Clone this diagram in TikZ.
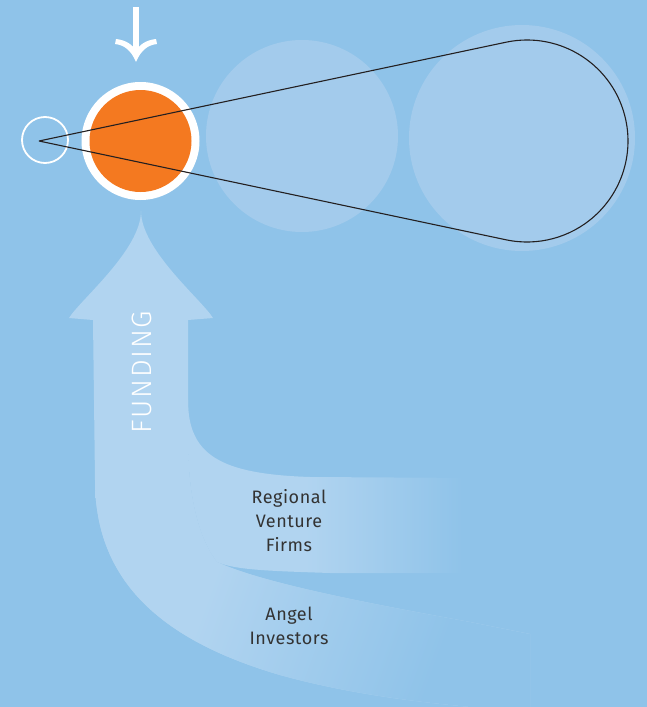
\documentclass[tikz,border=0pt]{standalone}
\usepackage{fontspec}
\setmainfont{Fira Sans}[LetterSpace=3]
\newfontfamily\thinfont{Fira Sans Light}[LetterSpace=6]
\definecolor{bg}{HTML}{8FC3E9}
\definecolor{circ}{HTML}{A3CBEC}
\definecolor{lt}{HTML}{B1D4F0}
\definecolor{orng}{HTML}{F47920}
\definecolor{lineC}{HTML}{231F20}
\definecolor{txt}{HTML}{333333}
% path occupies 25bp..75bp of the shading
\pgfdeclarehorizontalshading{upfade}{100bp}{color(0bp)=(lt); color(45bp)=(lt); color(72bp)=(bg); color(100bp)=(bg)}
\pgfdeclarehorizontalshading{mainfade}{100bp}{color(0bp)=(lt); color(38bp)=(lt); color(68bp)=(bg); color(100bp)=(bg)}
\tikzset{
  disc/.style={circle, inner sep=0pt, outer sep=0pt},
  label/.style={font=\fontsize{18}{24}\selectfont, text=txt, align=center},
}
\begin{document}
\begin{tikzpicture}[x=1pt,y=-1pt]
\fill[bg] (0,0) rectangle (647,707);
\useasboundingbox (0,0) rectangle (647,707);
% background circles
\node[disc, fill=circ, minimum size=226pt] (big) at (522,138) {};
\node[disc, fill=circ, minimum size=192pt] (mid) at (302,136) {};
% funding arrow: shaft + angel band
\begin{scope}
\clip (141,211) .. controls (141,250) and (80,300) .. (69,318) -- (93,320) -- (95,480)
  .. controls (95,580) and (160,640) .. (280,675) .. controls (360,697) and (440,705) .. (530,712)
  -- (530,634) -- (470,622) .. controls (360,602) and (260,582) .. (217,562)
  .. controls (200,540) and (188,500) .. (188,440) -- (188,320) -- (213,318)
  .. controls (202,300) and (141,250) .. (141,211) -- cycle;
\fill[lt] (60,200) rectangle (540,712);
\shade[shading=mainfade, shading angle=-20] (95,430) rectangle (540,712);
\end{scope}
% regional venture band
\shade[shading=upfade] (188,400) .. controls (188,455) and (220,474) .. (310,477) -- (480,478)
  -- (480,573) -- (330,573) .. controls (270,571) and (235,570) .. (217,562)
  .. controls (200,540) and (188,500) .. (188,440) -- cycle;
% labels
\node[font=\fontsize{28}{28}\selectfont\thinfont, text=white, rotate=90] (funding) at (142,372) {FUNDING};
\node[label] (rvf) at (289,521) {Regional\\Venture\\Firms};
\node[label] (angel) at (289,626) {Angel\\Investors};
% down arrow
\coordinate (dtop) at (136,7);
\coordinate (dtip) at (136,62);
\draw[white, line width=6.5pt] (dtop) -- (136,52);
\fill[white] (dtip) .. controls (131,50) and (124,45) .. (115,44) -- (116,39)
  .. controls (126,40) and (133,45) .. (136,51) .. controls (139,45) and (146,40) .. (156,39)
  -- (157,44) .. controls (148,45) and (141,50) .. (dtip) -- cycle;
% orange circle
\node[disc, fill=white, minimum size=118pt] (ring) at (140.5,141) {};
\node[disc, fill=orng, minimum size=102pt] (core) at (140.5,141) {};
% small circle
\node[disc, draw=white, line width=1.8pt, minimum size=46pt] (small) at (45,140) {};
% loop
\coordinate (apex) at (39,141);
\coordinate (loopc) at (527,141);
\draw[lineC, line width=1.1pt, line join=miter]
  (apex) -- ([shift={(-101.94:101)}]loopc) arc[start angle=-101.94, end angle=101.94, radius=101] -- (apex);
\end{tikzpicture}
\end{document}
